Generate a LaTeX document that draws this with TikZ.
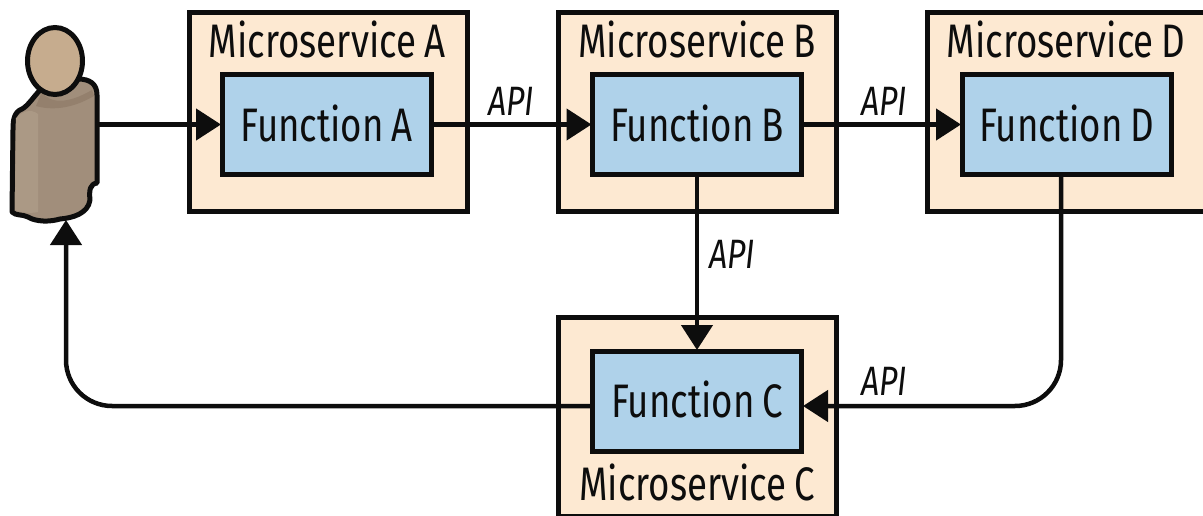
\documentclass[tikz,border=0pt]{standalone}
\usepackage{fontspec}
\setmainfont[FakeStretch=0.78,WordSpace=0.8]{Fira Sans}
\usetikzlibrary{arrows.meta}
\definecolor{svc}{HTML}{FDE9D2}
\definecolor{fn}{HTML}{AFD2EA}
\definecolor{ink}{HTML}{0D0D0D}
\definecolor{bodyc}{HTML}{A18E7B}
\definecolor{bodyd}{HTML}{AB9985}
\definecolor{bodys}{HTML}{94806D}
\definecolor{headc}{HTML}{C6AC8E}
\tikzset{
  svcbox/.style={draw=ink,fill=svc,line width=5pt,outer sep=0pt,minimum width=278pt,minimum height=199pt,inner sep=0pt,anchor=north west},
  fnbox/.style={draw=ink,fill=fn,line width=5pt,outer sep=0pt,minimum width=209pt,minimum height=100pt,inner sep=0pt,anchor=north west,font=\fontsize{47}{47}\selectfont,text=ink},
  svclabel/.style={font=\fontsize{47}{47}\selectfont,text=ink,inner sep=0pt,anchor=center},
  apilabel/.style={font=\fontsize{41}{41}\selectfont\itshape,text=ink,inner sep=0pt,anchor=center},
  conn/.style={draw=ink,line width=4.5pt,-{Triangle[length=25pt,width=31pt]},shorten >=1pt},
}
\begin{document}
\begin{tikzpicture}[x=1pt,y=-1pt]
\useasboundingbox (0,0) rectangle (1203,516);
% microservices
\node[svcbox] (msA) at (189,12.5) {};
\node[svcbox] (msB) at (558,12.5) {};
\node[svcbox] (msD) at (927,12.5) {};
\node[svcbox] (msC) at (558,317) {};
% functions
\node[fnbox] (fA) at (222,74.5) {\raisebox{3pt}{Function A}};
\node[fnbox] (fB) at (592.5,74.5) {\raisebox{3pt}{Function B}};
\node[fnbox] (fD) at (962,74.5) {\raisebox{3pt}{Function D}};
\node[fnbox] (fC) at (592.5,351) {\raisebox{3pt}{Function C}};
% service labels
\node[svclabel] (lA) at (327,39) {Microservice A};
\node[svclabel] (lB) at (697,39) {Microservice B};
\node[svclabel] (lD) at (1066,39) {Microservice D};
\node[svclabel] (lC) at (697,482) {Microservice C};
% person
\coordinate (pIn) at (66,219);
\coordinate (pOut) at (98,125);
\draw[ink,line width=5pt,line join=round,fill=bodyc]
  (42,88) .. controls (34,96) and (28,106) .. (22,109)
  .. controls (14,112) and (13,120) .. (13,130)
  -- (12,212) .. controls (16,216) and (22,214) .. (28,217)
  .. controls (36,222) and (50,222) .. (60,219)
  .. controls (72,218) and (88,214) .. (90,200)
  .. controls (89,190) and (90,184) .. (97,183)
  -- (97,95) .. controls (97,84) and (90,79) .. (78,79)
  -- cycle;
\fill[bodyd] (16,118) .. controls (22,112) and (30,108) .. (38,114) -- (38,212) .. controls (30,214) and (20,212) .. (15,210) -- cycle;
\fill[bodys] (42,92) .. controls (50,104) and (68,104) .. (92,90) -- (94,96) .. controls (70,110) and (50,110) .. (36,106) -- cycle;
\draw[ink,line width=5pt,fill=headc] (55,61) ellipse [x radius=27.5pt,y radius=33.5pt];
% connectors
\draw[conn] (pOut |- fA.west) -- (fA.west);
\draw[conn] (fA.east) -- (fB.west);
\draw[conn] (fB.east) -- (fD.west);
\draw[conn] (fB.south) -- (fC.north);
\coordinate (dStart) at (1061,174);
\coordinate (dCorner) at (1061,406);
\coordinate (cEast) at (802,406);
\coordinate (cWest) at (592,406);
\coordinate (pCorner) at (66,406);
\draw[conn,rounded corners=46pt] (dStart) -- (dCorner) -- (cEast);
\draw[conn,rounded corners=46pt] (cWest) -- (pCorner) -- (pIn);
% labels
\node[apilabel] (a1) at (511,101) {API};
\node[apilabel] (a2) at (884,101) {API};
\node[apilabel] (a3) at (732,254) {API};
\node[apilabel] (a4) at (884,381) {API};
\end{tikzpicture}
\end{document}
